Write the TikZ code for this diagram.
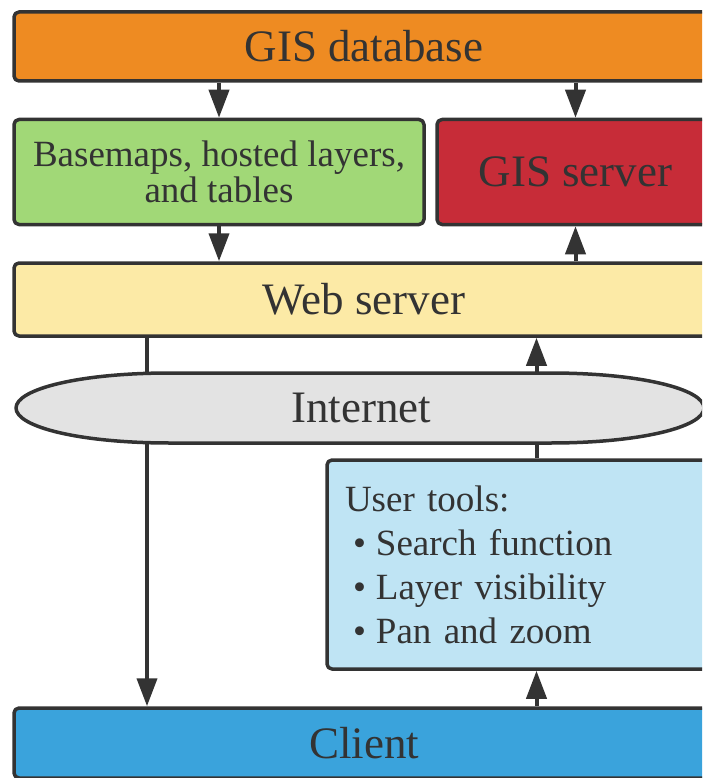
\documentclass[tikz,border=0pt]{standalone}
\usepackage{fontspec}
\setmainfont{Liberation Serif}
\usepackage{tikz}
\usetikzlibrary{arrows.meta}
\definecolor{dbcol}{HTML}{EE8B22}
\definecolor{basecol}{HTML}{A1D877}
\definecolor{servcol}{HTML}{C72C38}
\definecolor{webcol}{HTML}{FCEAA6}
\definecolor{netcol}{HTML}{E3E3E3}
\definecolor{toolcol}{HTML}{BFE4F4}
\definecolor{clientcol}{HTML}{3AA3DC}
\definecolor{ink}{HTML}{333333}
\begin{document}
\begin{tikzpicture}[x=1pt,y=-1pt,line cap=round,line join=round,
  box/.style={draw=ink,line width=3.5pt,rounded corners=5pt,text=ink,inner sep=0pt},
  bigtxt/.style={font=\fontsize{45}{48}\selectfont},
  midtxt/.style={font=\fontsize{37}{36}\selectfont,align=center},
  arr/.style={draw=ink,line width=4pt,line cap=butt,-{Triangle[length=28pt,width=20pt]}}]
\useasboundingbox (0,0) rectangle (702,778);
\clip (0,0) rectangle (702,778);
\node[box,bigtxt,fill=dbcol,minimum width=700pt,minimum height=69pt] (db) at (364,46.5) {GIS database};
\node[box,midtxt,fill=basecol,minimum width=410pt,minimum height=105pt] (basemaps) at (219,172) {Basemaps, hosted layers,\\and tables};
\node[box,bigtxt,fill=servcol,minimum width=277pt,minimum height=105pt] (gisserver) at (575.5,172) {GIS server};
\node[box,bigtxt,fill=webcol,minimum width=700pt,minimum height=73pt] (web) at (364,299.5) {Web server};
\node[box,fill=toolcol,minimum width=387pt,minimum height=209pt,text width=351pt,inner xsep=18pt,align=left,
  font=\fontsize{37}{44}\selectfont] (tools) at (520.5,564.5)
  {User tools:\\\hspace*{8pt}•\hspace{10pt}Search function\\\hspace*{8pt}•\hspace{10pt}Layer visibility\\\hspace*{8pt}•\hspace{10pt}Pan and zoom};
\node[box,bigtxt,fill=clientcol,minimum width=700pt,minimum height=70pt] (client) at (364,743) {Client};
\coordinate (lft) at (147,0);
\coordinate (rgt) at (536.5,0);
\draw[arr] (basemaps.north |- db.south) -- (basemaps.north);
\draw[arr] (gisserver.north |- db.south) -- (gisserver.north);
\draw[arr] (basemaps.south) -- (basemaps.south |- web.north);
\draw[arr] (gisserver.south |- web.north) -- (gisserver.south);
\draw[arr] (web.south -| lft) -- (client.north -| lft);
\draw[arr] (tools.north -| rgt) -- (web.south -| rgt);
\draw[arr] (client.north -| rgt) -- (tools.south -| rgt);
% internet band
\draw[draw=ink,line width=3.5pt,fill=netcol] (16,408) .. controls (16,389) and (80,373) .. (170,373)
  -- (550,373) .. controls (640,373) and (704,389) .. (704,408)
  .. controls (704,427) and (640,443) .. (550,443) -- (170,443)
  .. controls (80,443) and (16,427) .. (16,408) -- cycle;
\node[text=ink,bigtxt] (net) at (361,408) {Internet};
\end{tikzpicture}
\end{document}
